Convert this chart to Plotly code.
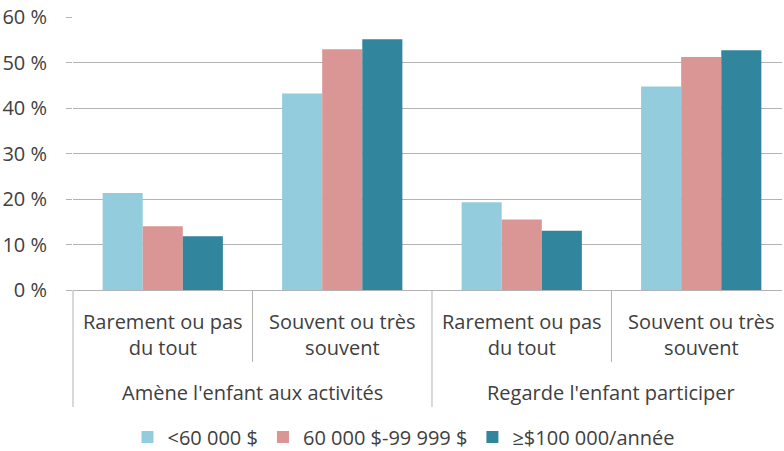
import plotly.graph_objects as go

# ---- data ----
categories = ["Amène|Rarement", "Amène|Souvent", "Regarde|Rarement", "Regarde|Souvent"]
inner_labels = ["Rarement ou pas<br>du tout", "Souvent ou très<br>souvent",
                "Rarement ou pas<br>du tout", "Souvent ou très<br>souvent"]
group_labels = ["Amène l'enfant aux activités", "Regarde l'enfant participer"]
series_names = ["<60 000 $", "60 000 $-99 999 $", "≥$100 000/année"]
low_income = [21.3, 43.2, 19.3, 44.7]
mid_income = [14.0, 52.9, 15.5, 51.2]
high_income = [11.8, 55.1, 13.0, 52.7]
y_ticks = [0, 10, 20, 30, 40, 50, 60]
y_tick_labels = ["0 %", "10 %", "20 %", "30 %", "40 %", "50 %", "60 %"]

colors = ["#93CDDD", "#D99694", "#31859C"]
text_color = "#404040"
grid_color = "#B3B3B3"
font_family = "Open Sans"
fs = 20

W, H = 784, 451
PLOT_T, PLOT_H = 17, 273

fig = go.Figure()
for name, vals, col in zip(series_names, [low_income, mid_income, high_income], colors):
    fig.add_trace(go.Bar(x=categories, y=vals, name=name, marker_color=col,
                         marker_line_width=0))

# category labels
for cat, lab in zip(categories, inner_labels):
    fig.add_annotation(x=cat, y=0, xref="x", yref="y", text=lab, showarrow=False,
                       yanchor="middle", yshift=-44.5, align="center",
                       font=dict(size=fs, color=text_color, family=font_family))
for i, lab in enumerate(group_labels):
    fig.add_annotation(x=0.5 + 2 * i, y=0, xref="x", yref="y", text=lab, showarrow=False,
                       yanchor="middle", yshift=-102, align="center",
                       font=dict(size=fs, color=text_color, family=font_family))

# dividers
for xpos in [0.5, 2.5]:
    fig.add_shape(type="line", xref="x", yref="paper", x0=xpos, x1=xpos, y0=0,
                  y1=-72 / PLOT_H, line=dict(color=grid_color, width=1))
fig.add_shape(type="line", xref="x", yref="paper", x0=1.5, x1=1.5, y0=0,
              y1=-117 / PLOT_H, line=dict(color=grid_color, width=1))
fig.add_shape(type="line", xref="paper", yref="paper", x0=0, x1=0, y0=0,
              y1=-117 / PLOT_H, line=dict(color=grid_color, width=1))

fig.update_layout(
    width=W, height=H,
    margin=dict(l=73, r=2, t=PLOT_T, b=H - PLOT_T - PLOT_H, autoexpand=False),
    paper_bgcolor="white", plot_bgcolor="white",
    barmode="group", bargap=0.33, bargroupgap=0,
    font=dict(family=font_family, color=text_color, size=fs),
    showlegend=True,
    legend=dict(orientation="h", xref="container", yref="container",
                x=404 / W, xanchor="center", y=1 - 437 / H, yanchor="middle",
                font=dict(size=fs, color=text_color, family=font_family),
                itemwidth=30, traceorder="normal"),
    xaxis=dict(range=[-0.5, 3.45], showticklabels=False, showgrid=False,
               showline=True, linecolor=grid_color, linewidth=1, ticks="",
               automargin=False),
    yaxis=dict(range=[0, 60], tickmode="array", tickvals=y_ticks, ticktext=y_tick_labels,
               showgrid=True, gridcolor=grid_color, gridwidth=1,
               ticks="outside", ticklen=6, tickcolor=grid_color,
               showline=False, zeroline=False, ticklabelstandoff=15,
               ticklabeloverflow="allow", automargin=False,
               tickfont=dict(size=fs, color=text_color, family=font_family)),
)

# remove the browser's default 8px body margin so the figure sits at (0, 0)
fig.write_html("out.html", config={"displayModeBar": False},
               post_script="document.body.style.margin='0';")
